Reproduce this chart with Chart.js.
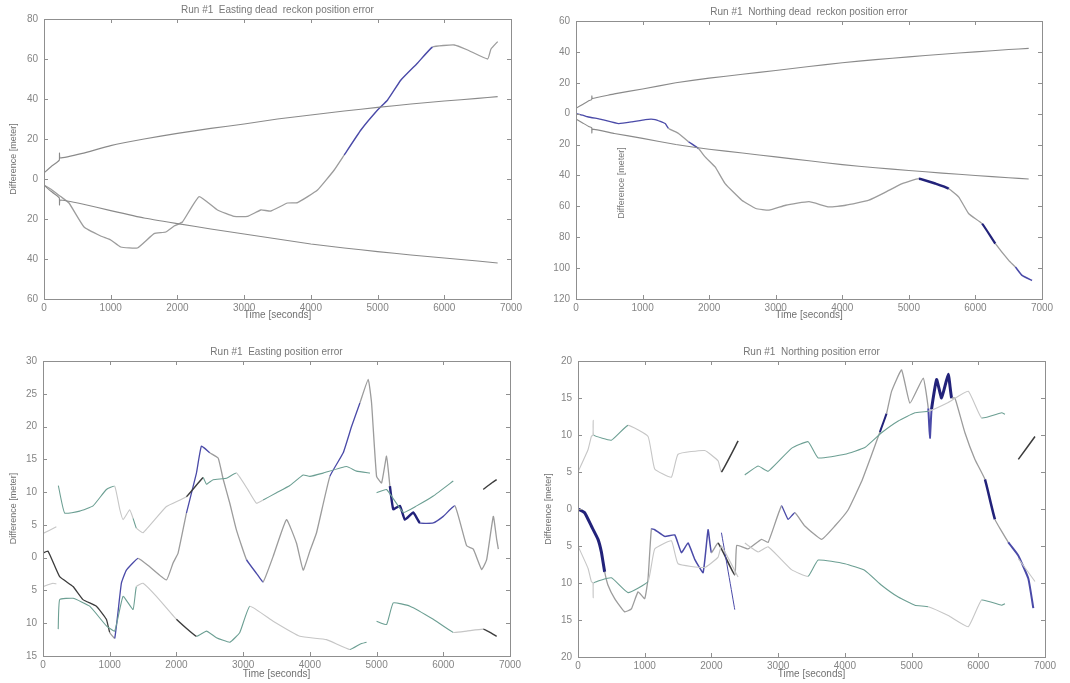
<!DOCTYPE html>
<html>
<head>
<meta charset="utf-8">
<script src="https://cdn.jsdelivr.net/npm/chart.js@4"></script>
<style>
  html, body { margin: 0; padding: 0; background: #fff; }
  body { width: 1070px; height: 683px; position: relative; overflow: hidden; }
  canvas { position: absolute; }
</style>
</head>
<body>
<canvas id="cTL" width="535" height="320" style="left:0;top:0"></canvas>
<canvas id="cTR" width="535" height="320" style="left:535px;top:0"></canvas>
<canvas id="cBL" width="535" height="363" style="left:0;top:320px"></canvas>
<canvas id="cBR" width="535" height="363" style="left:535px;top:320px"></canvas>
<script>
// Run #1 - easting dead reckoning error and +/- bounds
const tlBoundTime = [0, 100, 200, 230, 232, 240, 575, 1000, 1500, 2000, 2500, 3000, 3500, 4000, 4500, 5000, 5500, 6000, 6500, 6800];
const tlUpper = [3, 6, 8.5, 9.5, 13, 10.5, 12.8, 16.7, 20, 22.8, 25.3, 27.5, 30, 32, 34, 35.8, 37.5, 39, 40.3, 41.2];
const tlLower = [-3, -6, -8.5, -9.5, -13, -10.5, -12.5, -15.8, -19.5, -22.3, -25, -27.5, -30, -32.5, -34.5, -36.3, -38, -39.5, -41, -42];
const tlErrTime = [0, 100, 250, 375, 600, 850, 1000, 1150, 1400, 1650, 1825, 1950, 2075, 2325, 2600, 2850, 3050, 3250, 3400, 3650, 3800, 4100, 4350, 4500, 4750, 5000, 5150, 5350, 5600, 5825, 6150, 6350, 6650, 6700, 6800];
const tlErr = [-3, -5, -8.8, -12, -24, -28.5, -30.5, -34, -34.5, -27.3, -26.5, -23.5, -21.5, -8.8, -15.5, -18.7, -18.7, -15.5, -16, -12, -11.8, -5.5, 4.5, 12, 24.5, 34.5, 39.5, 49.5, 58, 66, 67, 64.5, 60, 65, 68.7];

// Run #1 - northing dead reckoning error and +/- bounds
const trBoundTime = [0, 100, 200, 235, 238, 245, 575, 1000, 1500, 2000, 2500, 3000, 3500, 4000, 4500, 5000, 5500, 6000, 6500, 6800];
const trUpper = [3.5, 6, 8.5, 9, 11.5, 9.8, 12.8, 16, 20, 23, 25.5, 28, 30.5, 33, 35, 36.8, 38.5, 40, 41.5, 42.3];
const trLower = [-3.5, -6, -8.5, -9, -12.5, -10, -12.8, -16, -20, -23, -25.5, -28, -30.5, -33, -35, -36.8, -38.5, -40, -41.5, -42.3];
const trErrTime = [0, 100, 175, 390, 640, 840, 1040, 1190, 1340, 1390, 1540, 1690, 1840, 1940, 2090, 2240, 2490, 2700, 2900, 3150, 3500, 3800, 4050, 4400, 4650, 4900, 5150, 5400, 5600, 5750, 5900, 6100, 6300, 6500, 6600, 6700, 6850];
const trErr = [0, -1, -2, -3.8, -6.4, -5.3, -3.8, -3.8, -6.4, -9.6, -12.8, -18.2, -22.6, -28, -34.5, -45.3, -56, -61.4, -62.5, -59.3, -57, -60.4, -59.3, -56, -50.8, -45.3, -42.1, -45.3, -48.6, -54, -64.8, -71.2, -84.2, -95, -99.3, -104.7, -108];

// Run #1 - easting position error (null = no estimate)
const blErrTime = [0, 75, 250, 450, 600, 800, 950, 1000, 1075, 1175, 1250, 1425, 1600, 1850, 1950, 2025, 2150, 2300, 2375, 2500, 2625, 2700, 2800, 2900, 3050, 3200, 3300, 3450, 3650, 3800, 3900, 4000, 4100, 4300, 4500, 4625, 4750, 4875, 4925, 5000, 5075, 5150, 5200, 5250, 5350, 5425, 5550, 5650, 5850, 6000, 6175, 6350, 6450, 6575, 6650, 6750, 6800, 6825];
const blErr = [0.7, 1, -2.9, -4.4, -6.4, -7.4, -9.4, -11.4, -12.3, -3.9, -1.9, -0.1, -1.4, -3.4, -0.8, 0.7, 6.8, 12.9, 17, 16, 15.2, 12, 8.3, 4.2, -0.3, -2.4, -3.7, 0.2, 5.8, 2.2, -1.9, 1, 3.8, 12.4, 16, 20, 23.6, 27.2, 23.6, 12.4, 11.4, 15.5, 10.9, 7.4, 7.9, 5.8, 6.9, 5.3, 5.3, 6.3, 7.9, 1.8, 1.3, -1.8, -0.3, 6.3, 2.8, 1.3];
const blUpTime = [0, 200, 215, 230, 325, 550, 750, 950, 1075, 1150, 1200, 1300, 1350, 1400, 1500, 1850, 2150, 2400, 2450, 2550, 2750, 2900, 3075, 3200, 3300, 3500, 3700, 3900, 4000, 4200, 4550, 4700, 4900, 4950, 5000, 5150, 5400, 5600, 5850, 6150, 6400, 6600, 6700, 6800];
const blUpper = [3.7, 4.7, null, 11, 6.8, 7.1, 7.9, 10.4, 10.9, 7.4, 5.8, 7.3, 6, 4.5, 3.8, 7.8, 9.3, 12.2, 11.2, 11.9, 12.1, 12.9, 10.3, 8.3, 8.8, 9.9, 11, 12.6, 12.4, 12.9, 13.9, 13.2, 12.9, null, 9.9, 10.4, 6.9, 7.9, 9.4, 11.7, null, 10.4, 11.2, 11.9];
const blLoTime = [0, 150, 200, 215, 228, 250, 450, 700, 950, 1075, 1200, 1350, 1400, 1500, 1700, 2000, 2300, 2450, 2600, 2800, 2950, 3100, 3450, 3850, 4250, 4600, 4750, 4850, 4950, 5000, 5150, 5250, 5500, 5850, 6150, 6350, 6600, 6700, 6800];
const blLower = [-4.4, -3.9, -4, null, -10.9, -6.4, -6.2, -7.4, -10.4, -11.2, -5.9, -7.9, -4.4, -3.9, -5.9, -9.4, -12, -11.2, -12.2, -12.9, -11.4, -7.4, -9.7, -12, -12.5, -14, -13.2, -12.9, null, -9.7, -10.2, -6.9, -7.4, -9.4, -11.4, -11.2, -10.9, -11.4, -12];

// Run #1 - northing position error
const brErrTime = [0, 100, 200, 300, 350, 400, 450, 550, 700, 800, 900, 1000, 1050, 1100, 1150, 1300, 1450, 1550, 1650, 1750, 1875, 1950, 2000, 2100, 2350, 2380, 2550, 2750, 2850, 3050, 3150, 3250, 3400, 3650, 3850, 4050, 4250, 4400, 4525, 4625, 4700, 4850, 4975, 5175, 5250, 5275, 5300, 5375, 5450, 5550, 5600, 5650, 5800, 5950, 6100, 6250, 6450, 6600, 6750, 6825];
const brErr = [0, -0.5, -2.3, -4.1, -5.8, -8.5, -10.3, -12.1, -13.9, -13.5, -11.2, -12.1, -9.4, -2.7, -2.8, -3.7, -3.5, -5.9, -4.6, -6.8, -8.6, -2.8, -5.9, -4.6, -8.9, -4.9, -5.4, -4.1, -4.5, 0.4, -1.4, -0.5, -2.3, -4.1, -2.3, -0.1, 3.7, 7.3, 10.4, 12.9, 15.9, 18.8, 14.3, 17.7, 13.6, 9.6, 13.5, 17.5, 15, 18.2, 15, 15, 10.3, 6.7, 4, -1.4, -4.5, -6.3, -9.4, -13.4];
const brBranchTime = [2150, 2350];
const brBranch = [-3.2, -13.6];
const brBoundTime = [0, 150, 200, 225, 228, 235, 500, 750, 1050, 1150, 1400, 1500, 1900, 2100, 2150, 2400, 2425, 2500, 2700, 2850, 3200, 3450, 3600, 4000, 4300, 4550, 4800, 5050, 5250, 5550, 5850, 6050, 6350, 6400, 6500, 6600, 6850];
const brUpper = [5, 8, 9.8, 10, 12, 10, 9.3, 11.3, 9.8, 5.4, 4.3, 7.4, 7.9, 6.5, 5, 9.2, null, 4.6, 5.8, 5.1, 8.2, 9.1, 6.9, 7.4, 8.3, 10.3, 11.9, 13, 13.2, 14.4, 15.9, 12.3, 13, 12.8, null, 6.7, 9.8];
const brLower = [-5, -8, -9.8, -10, -12, -10, -9.3, -11.3, -9.8, -5.4, -4.3, -7.4, -7.9, -6.5, -5, -9.2, null, -4.6, -5.8, -5.1, -8.2, -9.1, -6.9, -7.4, -8.3, -10.3, -11.9, -13, -13.2, -14.4, -15.9, -12.3, -13, -12.8, null, -6.7, -9.8];

const FONT = "'Liberation Sans', Arial, sans-serif";
const GRAY = '#9c9c9c';
const LIGHT = '#c6c6c6';
const BLUE = '#4a4aa8';
const DBLUE = '#22227a';
const TEAL = '#6c9f93';
const DARK = '#3c3c3c';

function pts(ts, vs) {
  return ts.map((t, i) => ({ x: t, y: vs[i] }));
}

// colour a line piecewise by time span: [from, to, colour, width]
function spans(list, base) {
  const pick = ctx => {
    const t = (ctx.p0.parsed.x + ctx.p1.parsed.x) / 2;
    return list.find(s => t >= s[0] && t <= s[1]);
  };
  return {
    borderColor: ctx => { const s = pick(ctx); return s ? s[2] : base; },
    borderWidth: ctx => { const s = pick(ctx); return s && s[3] ? s[3] : undefined; }
  };
}

function line(data, color, seg, width) {
  return {
    data: data,
    borderColor: color,
    borderWidth: width || 1.1,
    pointRadius: 0,
    tension: 0.12,
    spanGaps: false,
    segment: seg ? spans(seg, color) : undefined
  };
}

// box round the plot, inward ticks, title and an optional free label
const frame = {
  id: 'frame',
  afterDatasetsDraw(chart, args, opts) {
    const { ctx, chartArea: a, scales } = chart;
    ctx.save();
    ctx.strokeStyle = '#8f8f8f';
    ctx.lineWidth = 1;
    ctx.strokeRect(a.left + 0.5, a.top + 0.5, a.width, a.height);
    ctx.beginPath();
    scales.x.ticks.forEach(tk => {
      const px = Math.round(scales.x.getPixelForValue(tk.value)) + 0.5;
      ctx.moveTo(px, a.bottom); ctx.lineTo(px, a.bottom - 4);
      ctx.moveTo(px, a.top); ctx.lineTo(px, a.top + 4);
    });
    scales.y.ticks.forEach(tk => {
      const py = Math.round(scales.y.getPixelForValue(tk.value)) + 0.5;
      ctx.moveTo(a.left, py); ctx.lineTo(a.left + 4, py);
      ctx.moveTo(a.right, py); ctx.lineTo(a.right - 4, py);
    });
    ctx.stroke();
    ctx.fillStyle = '#777';
    ctx.font = '10px ' + FONT;
    ctx.textAlign = 'center';
    ctx.textBaseline = 'middle';
    ctx.fillText(opts.title, (a.left + a.right) / 2, a.top - 9);
    if (opts.inner) {
      ctx.translate(opts.inner.x, opts.inner.y);
      ctx.rotate(-Math.PI / 2);
      ctx.font = '9px ' + FONT;
      ctx.fillText(opts.inner.text, 0, 0);
    }
    ctx.restore();
  }
};

function makeChart(id, datasets, o) {
  new Chart(document.getElementById(id), {
    type: 'line',
    data: { datasets: datasets },
    options: {
      responsive: false,
      animation: false,
      devicePixelRatio: 1,
      layout: { padding: { top: o.top, right: o.right, left: 0, bottom: 0 } },
      plugins: { legend: { display: false }, tooltip: { enabled: false }, frame: { title: o.title, inner: o.inner } },
      scales: {
        x: {
          type: 'linear', min: 0, max: 7000,
          grid: { display: false, drawTicks: false }, border: { display: false },
          ticks: { stepSize: 1000, color: '#858585', font: { size: 10, family: FONT }, padding: 3, maxRotation: 0, callback: v => String(v) },
          title: { display: true, text: 'Time [seconds]', color: '#707070', font: { size: 10, family: FONT }, padding: { top: 0, bottom: o.xtb } },
          afterFit: s => { s.height = o.xh; }
        },
        y: {
          min: o.ymin, max: o.ymax,
          grid: { display: false, drawTicks: false }, border: { display: false },
          ticks: { stepSize: o.step, color: '#858585', font: { size: 10, family: FONT }, padding: 6, callback: v => String(Math.abs(v)) },
          title: { display: !o.inner, text: 'Difference [meter]', color: '#707070', font: { size: 9, family: FONT }, padding: { top: 8, bottom: 0 } },
          afterFit: s => { s.width = o.yw; }
        }
      }
    },
    plugins: [frame]
  });
}

makeChart('cTL', [
  line(pts(tlBoundTime, tlUpper), '#8a8a8a'),
  line(pts(tlBoundTime, tlLower), '#8a8a8a'),
  line(pts(tlErrTime, tlErr), GRAY, [[4450, 5750, BLUE, 1.4]], 1.3)
], { top: 19, right: 24, xh: 21, xtb: -1, yw: 44, ymin: -60, ymax: 80, step: 20,
     title: 'Run #1  Easting dead  reckon position error' });

makeChart('cTR', [
  line(pts(trBoundTime, trUpper), '#8a8a8a'),
  line(pts(trBoundTime, trLower), '#8a8a8a'),
  line(pts(trErrTime, trErr), GRAY, [[0, 1380, BLUE, 1.3], [60, 220, DBLUE, 3], [1650, 1860, BLUE, 1.5],
    [5200, 5600, DBLUE, 2.5], [6050, 6320, DBLUE, 2.2], [6580, 6900, BLUE, 1.6]], 1.3)
], { top: 21, right: 28, xh: 21, xtb: -1, yw: 41, ymin: -120, ymax: 60, step: 20,
     title: 'Run #1  Northing dead  reckon position error',
     inner: { x: 87, y: 183, text: 'Difference [meter]' } });

makeChart('cBL', [
  line(pts(blUpTime, blUpper), TEAL, [[0, 210, LIGHT], [1080, 1340, LIGHT], [1400, 2140, LIGHT], [2150, 2400, DARK, 1.4], [2950, 3250, LIGHT], [6160, 6560, LIGHT], [6580, 6850, DARK, 1.4]]),
  line(pts(blLoTime, blLower), TEAL, [[0, 210, LIGHT], [1450, 2000, LIGHT], [2040, 2320, DARK, 1.4], [3100, 3500, LIGHT], [3500, 4500, LIGHT], [6160, 6560, LIGHT], [6580, 6850, DARK, 1.4]]),
  line(pts(blErrTime, blErr), GRAY, [[0, 1000, DARK], [1100, 1450, BLUE], [2100, 2450, BLUE], [3000, 3350, BLUE],
    [4300, 4700, BLUE], [5200, 5700, DBLUE, 2.4], [5700, 6200, BLUE]], 1.3)
], { top: 41, right: 25, xh: 27, xtb: 3, yw: 43, ymin: -15, ymax: 30, step: 5,
     title: 'Run #1  Easting position error' });

makeChart('cBR', [
  line(pts(brBoundTime, brUpper), TEAL, [[0, 240, LIGHT], [800, 1000, LIGHT], [1050, 2140, LIGHT], [2140, 2410, DARK, 1.5], [5300, 6000, LIGHT], [6550, 6900, DARK, 1.5]]),
  line(pts(brBoundTime, brLower), TEAL, [[0, 240, LIGHT], [1050, 2140, LIGHT], [2140, 2410, LIGHT], [2400, 3450, LIGHT], [5300, 6000, LIGHT], [6550, 6900, LIGHT]]),
  line(pts(brBranchTime, brBranch), BLUE, null, 1),
  line(pts(brErrTime, brErr), GRAY, [[0, 380, DBLUE, 3], [1100, 2000, BLUE, 1.5], [2100, 2350, DARK, 1.6],
    [3000, 3300, BLUE], [4500, 4650, DBLUE, 2], [5240, 5320, BLUE, 2], [5320, 5620, DBLUE, 3], [6050, 6200, DBLUE, 2.5], [6500, 6850, BLUE, 2]], 1.3)
], { top: 41, right: 25, xh: 26, xtb: 3, yw: 43, ymin: -20, ymax: 20, step: 5,
     title: 'Run #1  Northing position error' });
</script>
</body>
</html>
